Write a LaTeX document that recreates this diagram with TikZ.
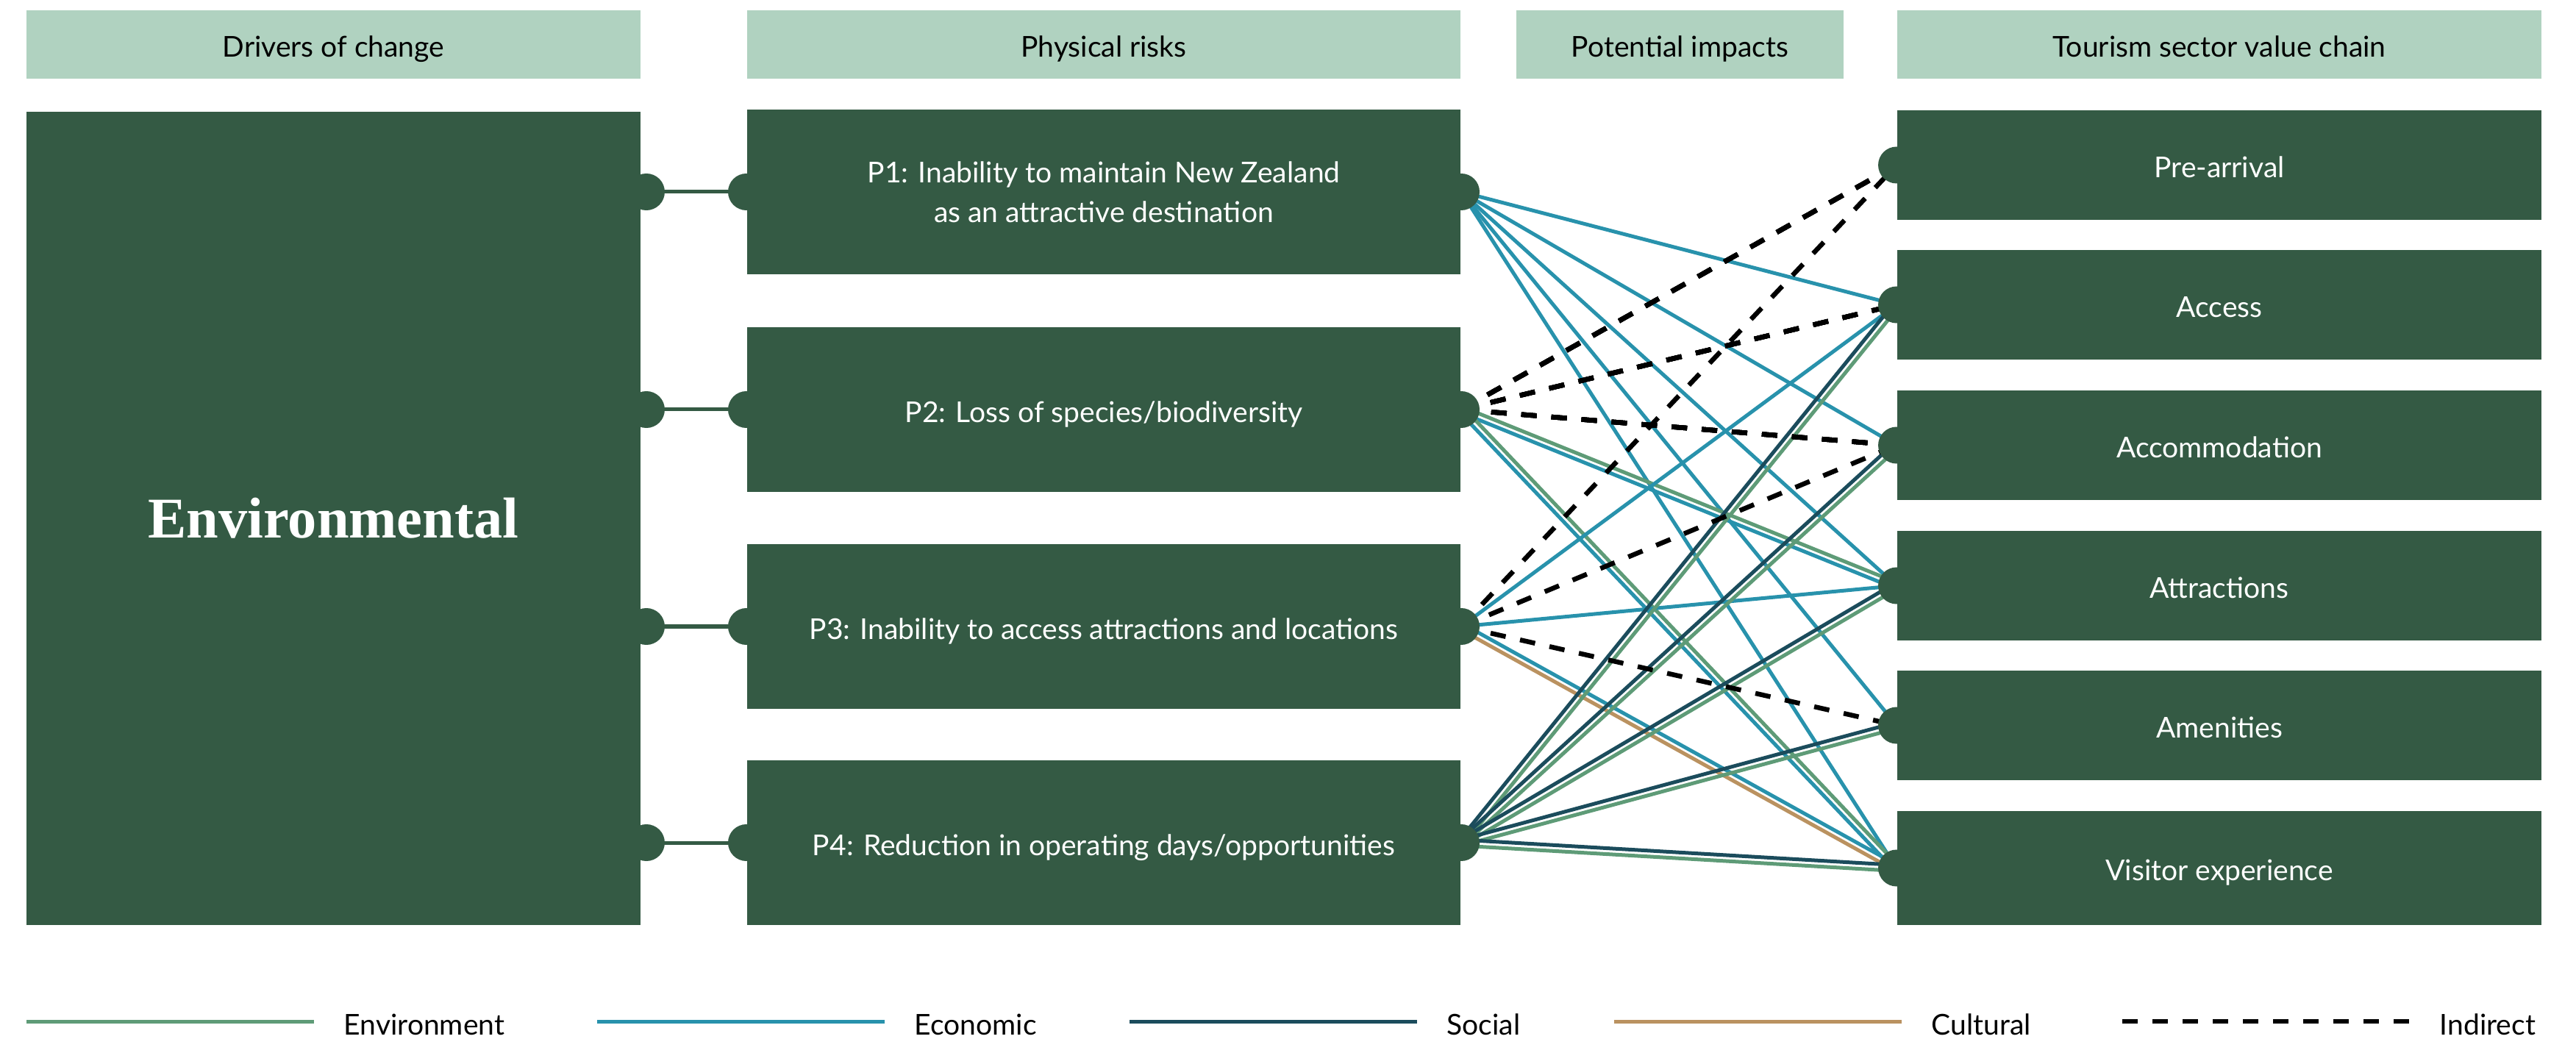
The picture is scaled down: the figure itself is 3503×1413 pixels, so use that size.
\documentclass[tikz,border=0pt]{standalone}
\usepackage{fontspec}
\setmainfont{Lato}
\newfontfamily\headserif{Liberation Serif}
\usetikzlibrary{calc}
\pgfdeclarelayer{background}
\pgfsetlayers{background,main}

\definecolor{boxgreen}{HTML}{345A44}
\definecolor{headgreen}{HTML}{B0D2C0}
\definecolor{envgreen}{HTML}{5E9B77}
\definecolor{econteal}{HTML}{2892AC}
\definecolor{socialblue}{HTML}{1B4C5C}
\definecolor{culturebrown}{HTML}{BA9260}

\newcommand\chartfont{\fontsize{11.1}{15.4}\selectfont}

\tikzset{
  oneline/.style={text height=0.34cm, text depth=0pt},
  head/.style={fill=headgreen, text=black, minimum height=0.93cm, inner sep=0pt, font=\chartfont, oneline},
  riskbox/.style={fill=boxgreen, text=white, minimum width=9.7cm, minimum height=2.23cm, inner sep=0pt, align=center, font=\chartfont},
  chainbox/.style={fill=boxgreen, text=white, minimum width=8.76cm, minimum height=1.49cm, inner sep=0pt, font=\chartfont, oneline},
  joint/.style={circle, fill=boxgreen, minimum size=0.5cm, inner sep=0pt},
  link/.style={boxgreen, line width=0.05cm},
  envl/.style={envgreen, line width=0.05cm},
  econl/.style={econteal, line width=0.05cm},
  socl/.style={socialblue, line width=0.05cm},
  cultl/.style={culturebrown, line width=0.05cm},
  indl/.style={black, line width=0.065cm, dash pattern=on 0.21cm off 0.2cm},
}

% two parallel impact lines, first style on the upper side
\newcommand\pairline[4]{%
  \draw[#3] ($(#1.center)!0.04cm!90:(#2.center)$) -- ($(#2.center)!0.04cm!-90:(#1.center)$);
  \draw[#4] ($(#1.center)!0.04cm!-90:(#2.center)$) -- ($(#2.center)!0.04cm!90:(#1.center)$);
}

\begin{document}
\begin{tikzpicture}[x=0.01cm,y=-0.01cm]
  \useasboundingbox (0,0) rectangle (3503,1413);

  % column headers
  \node[head, minimum width=8.35cm] (hdrive) at (453.5,60.5) {Drivers of change};
  \node[head, minimum width=9.7cm] (hphys) at (1501,60.5) {Physical risks};
  \node[head, minimum width=4.45cm] (himp) at (2284.5,60.5) {Potential impacts};
  \node[head, minimum width=8.76cm] (htour) at (3018,60.5) {Tourism sector value chain};

  % driver
  \node[fill=boxgreen, text=white, minimum width=8.35cm, minimum height=11.06cm, inner sep=0pt,
        font=\headserif\bfseries\fontsize{22.3}{26}\selectfont] (env) at (453.5,705) {Environmental};

  % physical risks
  \node[riskbox] (p1) at (1501,261) {P1: Inability to maintain New Zealand\\as an attractive destination};
  \node[riskbox, oneline] (p2) at (1501,557) {P2: Loss of species/biodiversity};
  \node[riskbox, oneline] (p3) at (1501,852) {P3: Inability to access attractions and locations};
  \node[riskbox, oneline] (p4) at (1501,1146) {P4: Reduction in operating days/opportunities};

  % value chain
  \node[chainbox] (pre) at (3018,224.5) {Pre-arrival};
  \node[chainbox] (acc) at (3018,414.5) {Access};
  \node[chainbox] (accom) at (3018,605.5) {Accommodation};
  \node[chainbox] (attr) at (3018,796.5) {Attractions};
  \node[chainbox] (amen) at (3018,986.5) {Amenities};
  \node[chainbox, minimum height=1.55cm] (vis) at (3018,1180.5) {Visitor experience};

  % joints
  \foreach \p in {p1,p2,p3,p4}
    {
      \node[joint] (\p l) at (\p.west) {};
      \node[joint] (\p r) at (\p.east) {};
      \node[joint] (\p e) at ($(env.east |- \p.west)+(7,0)$) {};
    }
  \foreach \c in {pre,acc,accom,attr,amen,vis}
    \node[joint] (\c j) at (\c.west) {};

  \begin{pgfonlayer}{background}
    \foreach \p in {p1,p2,p3,p4}
      \draw[link] (\p e.center) -- (\p l.center);
    % P1
    \foreach \c in {accj,accomj,attrj,amenj,visj}
      \draw[econl] (p1r.center) -- (\c.center);
    % P2
    \pairline{p2r}{attrj}{envl}{econl}
    \pairline{p2r}{visj}{envl}{econl}
    % P3
    \foreach \c in {accj,attrj}
      \draw[econl] (p3r.center) -- (\c.center);
    \pairline{p3r}{visj}{econl}{cultl}
    % P4
    \foreach \c in {accj,accomj,attrj,amenj,visj}
      \pairline{p4r}{\c}{socl}{envl}
    % indirect
    \foreach \c in {prej,accj,accomj}
      \draw[indl] (p2r.center) -- (\c.center);
    \foreach \c in {prej,accomj,amenj}
      \draw[indl] (p3r.center) -- (\c.center);
  \end{pgfonlayer}

  % legend
  \foreach \x/\sty/\lab in {36/envl/Environment,812/econl/Economic,1536/socl/Social,2195/cultl/Cultural,2886/indl/Indirect}
    {
      \coordinate (k\lab) at (\x,1389);
      \draw[\sty] (k\lab) -- ++(391,0);
      \node[anchor=base west, inner sep=0pt, font=\chartfont] (t\lab) at (\x+431,1407) {\lab};
    }
\end{tikzpicture}
\end{document}
